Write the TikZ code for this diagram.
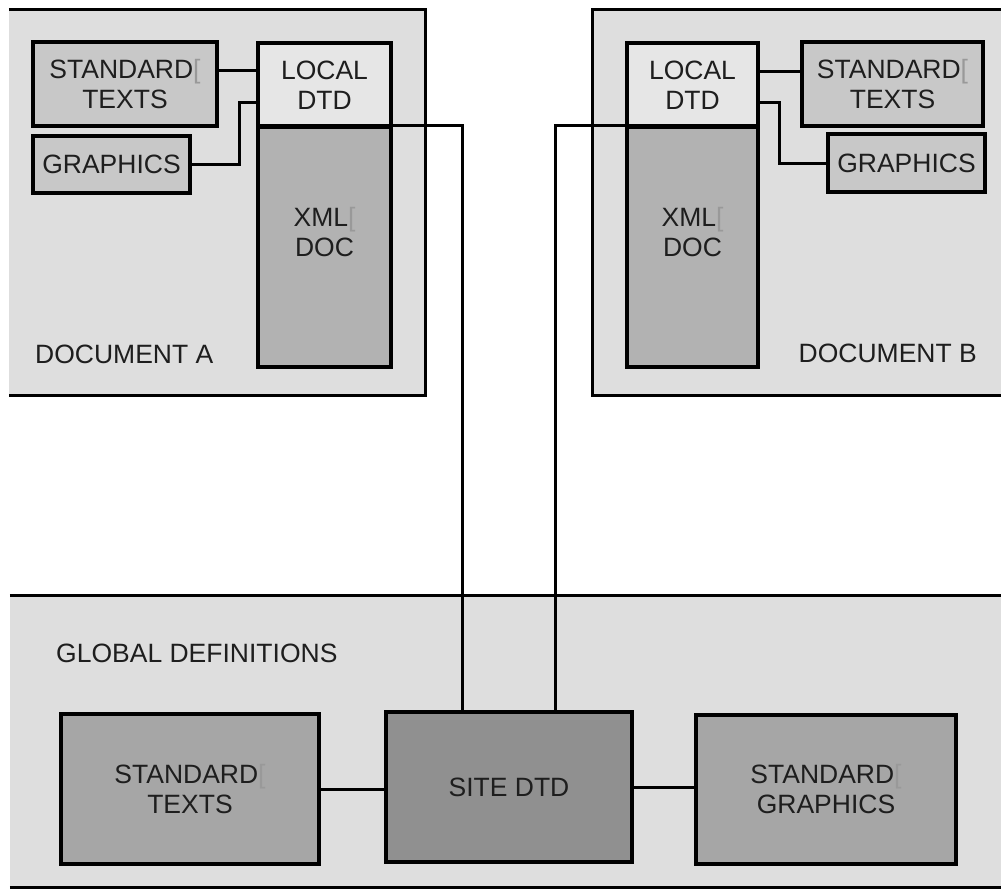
\documentclass[tikz,border=0pt]{standalone}
\usepackage{fontspec}
\setmainfont{Liberation Sans}
\usetikzlibrary{calc}
\definecolor{bgdoc}{HTML}{DEDEDE}
\definecolor{stdtop}{HTML}{C8C8C8}
\definecolor{localc}{HTML}{E6E6E6}
\definecolor{xmlc}{HTML}{B2B2B2}
\definecolor{stdbot}{HTML}{A6A6A6}
\definecolor{sitec}{HTML}{909090}
\definecolor{txt}{HTML}{1E1E1E}
\newcommand{\miss}{{\color{black!40}[}}
\tikzset{
  box/.style={draw=black, line width=3.5pt, inner sep=0pt, align=center,
    text=txt, font=\fontsize{26.5}{30}\selectfont},
  area/.style={fill=bgdoc, draw=none, inner sep=0pt},
  border/.style={line width=3pt, line join=miter},
  conn/.style={line width=3pt},
  lbl/.style={text=txt, font=\fontsize{26.5}{30}\selectfont, align=center, inner sep=0pt}
}
\begin{document}
\begin{tikzpicture}[x=1pt,y=-1pt]
\useasboundingbox[fill=white] (0,0) rectangle (1001,889);
% areas
\node[area, minimum width=416, minimum height=385] (docA) at (217,202.5) {};
\node[area, minimum width=412, minimum height=385] (docB) at (799,202.5) {};
\node[area, minimum width=995, minimum height=291] (glob) at (507.5,741.5) {};
\draw[border] (docA.north west) -- (docA.north east) -- (docA.south east) -- (docA.south west);
\draw[border] (docB.north east) -- (docB.north west) -- (docB.south west) -- (docB.south east);
\draw[border] (glob.north west) -- (glob.north east);
\draw[border] (glob.south west) -- (glob.south east);
% document A
\node[box, fill=stdtop, minimum width=184, minimum height=84] (stdA) at (125,84) {STANDARD\miss\\TEXTS};
\node[box, fill=stdtop, minimum width=157, minimum height=57] (grA) at (111.5,164.5) {GRAPHICS};
\node[box, fill=localc, minimum width=133, minimum height=84] (localA) at (324.5,85) {LOCAL\\DTD};
\node[box, fill=xmlc, minimum width=133, minimum height=240] (xmlA) at (324.5,247) {};
\node[lbl] (xmlAl) at ([yshift=-107pt]xmlA.north) {XML\miss\\DOC};
\node[lbl, anchor=west] (docAl) at (35,354) {DOCUMENT A};
% document B
\node[box, fill=localc, minimum width=131, minimum height=84] (localB) at (692.5,85) {LOCAL\\DTD};
\node[box, fill=xmlc, minimum width=131, minimum height=240] (xmlB) at (692.5,247) {};
\node[lbl] (xmlBl) at ([yshift=-107pt]xmlB.north) {XML\miss\\DOC};
\node[box, fill=stdtop, minimum width=181, minimum height=84] (stdB) at (892.5,84) {STANDARD\miss\\TEXTS};
\node[box, fill=stdtop, minimum width=157, minimum height=58] (grB) at (906.5,163) {GRAPHICS};
\node[lbl, anchor=east] (docBl) at (977,353) {DOCUMENT B};
% global
\node[lbl, anchor=west] (globl) at (56,653) {GLOBAL DEFINITIONS};
\node[box, fill=stdbot, minimum width=258, minimum height=150] (stdG) at (190,789) {STANDARD\miss\\TEXTS};
\node[box, fill=sitec, minimum width=246, minimum height=150] (site) at (509,787) {SITE DTD};
\node[box, fill=stdbot, minimum width=260, minimum height=149] (grG) at (826,789.5) {STANDARD\miss\\GRAPHICS};
% connectors
\draw[conn] ([yshift=14pt]stdA.east) -- ([yshift=14pt]stdA.east -| localA.west);
\draw[conn] (grA.east) -- ++(48,0) |- ([yshift=-17pt]localA.west);
\draw[conn] ([yshift=14pt]localB.east) -- ([yshift=14pt]localB.east -| stdB.west);
\draw[conn] ([yshift=-17pt]localB.east) -- ++(20,0) |- (grB.west);
\draw[conn] (xmlA.north west) -- (xmlA.north east) -| ([xshift=-47pt]site.north);
\draw[conn] (xmlB.north east) -- (xmlB.north west) -| ([xshift=46pt]site.north);
\draw[conn] (stdG.east) -- (stdG.east -| site.west);
\draw[conn] (site.east) -- (site.east -| grG.west);
\end{tikzpicture}
\end{document}
